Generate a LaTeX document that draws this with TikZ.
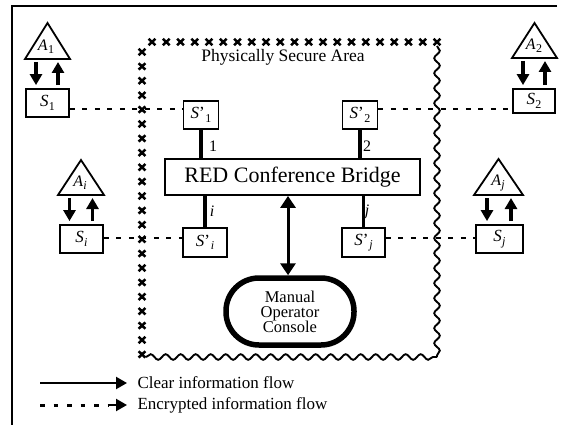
\documentclass[tikz,border=0pt]{standalone}
\usepackage{fontspec}
\setmainfont{Liberation Serif}
\usetikzlibrary{decorations.pathmorphing,arrows.meta,calc}

% italic symbol with a lowered index: plain and primed
\newcommand\symb[2]{\textit{#1}\kern0.3pt\raisebox{-0.45ex}{\fontsize{12}{12}\selectfont #2}}
\newcommand\symbp[2]{\textit{#1}'\kern0.8pt\raisebox{-0.45ex}{\fontsize{12}{12}\selectfont #2}}

\begin{document}
\begin{tikzpicture}[x=1pt,y=-1pt,
  box/.style={draw, line width=1.8pt, inner sep=0pt, font=\fontsize{17}{17}\selectfont},
  tri/.style={draw, line width=1.8pt, line join=miter},
  enc/.style={line width=2.8pt, dash pattern=on 5pt off 7.5pt},
  link/.style={line width=3.2pt},
  flow/.style={line width=3.2pt, -{Triangle[length=11pt,width=12pt]}, shorten >=3pt, shorten <=3pt},
  duplex/.style={line width=3pt, {Triangle[length=12pt,width=15pt]}-{Triangle[length=12pt,width=15pt]}},
  xmark/.style={line width=2.5pt},
  wave/.style={line width=1.9pt, decorate, decoration={snake, segment length=15pt, amplitude=2.8pt}},
  lab/.style={font=\fontsize{16}{16}\selectfont, inner sep=1pt},
  legtext/.style={anchor=west, font=\fontsize{17}{17}\selectfont}
]
\useasboundingbox (0,0) rectangle (561,425);

% page frame (top and left rules)
\draw[line width=1.6pt] (557,6) -- (12,6) -- (12,425);

% physically secure area: crossed boundary left and top, wavy right and bottom
\foreach \i in {0,...,21} {
  \pgfmathsetmacro\yy{52+14.4*\i}
  \draw[xmark] (142,\yy) +(-3.4,-3.2) -- +(3.4,3.2) +(-3.4,3.2) -- +(3.4,-3.2);
}
\foreach \i in {0,...,20} {
  \pgfmathsetmacro\xx{152+14.25*\i}
  \draw[xmark] (\xx,42) +(-3.4,-3.2) -- +(3.4,3.2) +(-3.4,3.2) -- +(3.4,-3.2);
}
\draw[wave] (437,46) -- (437,357);
\draw[wave] (146,357) -- (437,357);
\node[font=\fontsize{17.5}{17.5}\selectfont] (title) at (283,57) {Physically Secure Area};

% terminals outside the area
\node[box, minimum width=43pt, minimum height=28pt] (S1) at (47.5,103) {\symb{S}{1}};
\node[box, minimum width=42pt, minimum height=24pt] (S2) at (534,101) {\symb{S}{2}};
\node[box, minimum width=43pt, minimum height=28pt] (Si) at (81.5,239) {\symb{S}{\textit{i}}};
\node[box, minimum width=47pt, minimum height=28pt] (Sj) at (499.5,239) {\symb{S}{\textit{j}}};

% terminals inside the area
\node[box, minimum width=35pt, minimum height=28pt] (Sp1) at (201,115) {\symbp{S}{1}};
\node[box, minimum width=35pt, minimum height=28pt] (Sp2) at (360,115) {\symbp{S}{2}};
\node[box, minimum width=44pt, minimum height=29pt] (Spi) at (205,242.5) {\symbp{S}{\textit{i}}};
\node[box, minimum width=43pt, minimum height=29pt] (Spj) at (363.5,242.5) {\symbp{S}{\textit{j}}};

% bridge and console
\node[box, minimum width=255pt, minimum height=36pt, font=\fontsize{22}{22}\selectfont] (bridge) at (292.5,177) {RED Conference Bridge};
\node[draw, line width=5.5pt, rounded corners=33pt, minimum width=128pt, minimum height=67pt,
      align=center, inner sep=0pt, font=\fontsize{16.5}{15}\selectfont] (console) at (290,311.5) {Manual\\Operator\\Console};

% users (triangles) above their terminals
\draw[tri] (25,59) -- (47.5,23) -- (70,59) -- cycle;
\node[lab] (A1) at (46,47) {\symb{A}{1}};
\coordinate (A1b) at (47.5,59);
\draw[tri] (512,58) -- (534.5,23) -- (557,58) -- cycle;
\node[lab] (A2) at (534,46) {\symb{A}{2}};
\coordinate (A2b) at (534.5,58);
\draw[tri] (58,195) -- (81,160) -- (104,195) -- cycle;
\node[lab] (Ai) at (80,183) {\symb{A}{\textit{i}}};
\coordinate (Aib) at (81,195);
\draw[tri] (474,195) -- (498.5,159) -- (523,195) -- cycle;
\node[lab] (Aj) at (498,183) {\symb{A}{\textit{j}}};
\coordinate (Ajb) at (498.5,195);

% clear flows between users and terminals
\coordinate (a1d) at ($(A1b)+(-11.5,0)$);
\coordinate (a1u) at ($(A1b)+(10.5,0)$);
\draw[flow] (a1d) -- (a1d |- S1.north);
\draw[flow] (a1u |- S1.north) -- (a1u);
\coordinate (a2d) at ($(A2b)+(-11.5,0)$);
\coordinate (a2u) at ($(A2b)+(10.5,0)$);
\draw[flow] (a2d) -- (a2d |- S2.north);
\draw[flow] (a2u |- S2.north) -- (a2u);
\coordinate (aid) at ($(Aib)+(-11.5,0)$);
\coordinate (aiu) at ($(Aib)+(11.5,0)$);
\draw[flow] (aid) -- (aid |- Si.north);
\draw[flow] (aiu |- Si.north) -- (aiu);
\coordinate (ajd) at ($(Ajb)+(-11.5,0)$);
\coordinate (aju) at ($(Ajb)+(12.5,0)$);
\draw[flow] (ajd) -- (ajd |- Sj.north);
\draw[flow] (aju |- Sj.north) -- (aju);

% encrypted links across the boundary
\coordinate (e1) at (S1.east |- 0,109);
\draw[enc] (e1) -- (e1 -| Sp1.west);
\coordinate (e2) at (Sp2.east |- 0,109);
\draw[enc] (e2) -- (e2 -| S2.west);
\coordinate (ei) at (Si.east |- 0,238);
\draw[enc] (ei) -- (ei -| Spi.west);
\coordinate (ej) at (Spj.east |- 0,238);
\draw[enc] (ej) -- (ej -| Sj.west);

% ports of the bridge
\draw[link] (Sp1.south) -- (Sp1.south |- bridge.north);
\draw[link] (Sp2.south) -- (Sp2.south |- bridge.north);
\draw[link] (Spi.north) -- (Spi.north |- bridge.south);
\draw[link] (Spj.north) -- (Spj.north |- bridge.south);
\node[lab] (p1) at (213,146) {1};
\node[lab] (p2) at (367,146) {2};
\node[lab] (pi) at (212,211) {\textit{i}};
\node[lab] (pj) at (367,212) {\textit{j}};

% bridge to console
\coordinate (bc) at (288,0);
\draw[duplex] (bc |- bridge.south) -- (bc |- console.north);

% legend
\coordinate (l1a) at (40,383);
\coordinate (l1b) at (127,383);
\draw[line width=2.2pt, -{Triangle[length=11pt,width=12pt]}] (l1a) -- (l1b);
\node[legtext] (l1t) at (134,383) {Clear information flow};
\coordinate (l2a) at (40,405);
\coordinate (l2m) at (108,405);
\coordinate (l2b) at (127,405);
\draw[line width=3pt, dash pattern=on 4.5pt off 9pt] (l2a) -- (l2m);
\draw[line width=2.2pt, -{Triangle[length=11pt,width=12pt]}] (l2m) -- (l2b);
\node[legtext] (l2t) at (134,405) {Encrypted information flow};
\end{tikzpicture}
\end{document}
